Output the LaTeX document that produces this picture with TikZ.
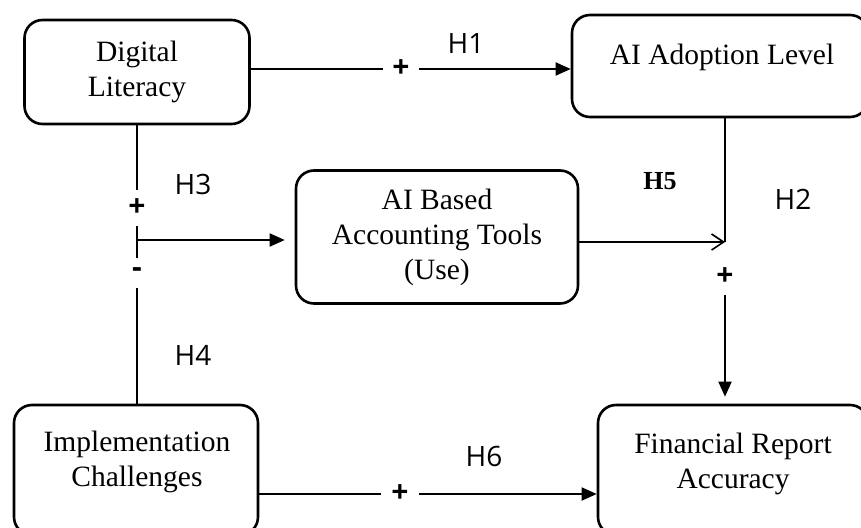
\documentclass[tikz,border=0pt]{standalone}
\usepackage{fontspec}
\setmainfont{Liberation Serif}
\newfontfamily\hfont{Open Sans}
\usetikzlibrary{arrows.meta,calc}
\begin{document}
\begin{tikzpicture}[x=1pt,y=-1pt,
  box/.style={draw, line width=2.6pt, rounded corners=18pt, inner sep=0pt},
  boxtext/.style={font=\fontsize{29.5}{35}\selectfont, align=center},
  conn/.style={line width=1.8pt},
  hlab/.style={font=\hfont\fontsize{28}{32}\selectfont},
  sign/.style={font=\hfont\bfseries\fontsize{30}{36}\selectfont, inner sep=0pt, minimum width=36pt, minimum height=36pt},
  tipfill/.style={-{Triangle[length=15pt,width=13pt]}},
  tipopen/.style={-{Straight Barb[length=12pt,width=16pt,line width=1.6pt]}}
]
\useasboundingbox (0,0) rectangle (861,527);
\clip (0,0) rectangle (861,527);

% boxes
\node[box, minimum width=225pt, minimum height=104pt, boxtext] (DL) at (137,72) {Digital\\Literacy};
\node[box, minimum width=296pt, minimum height=102pt] (AA) at (720,66) {};
\node[boxtext] (AAt) at (722,57) {AI Adoption Level};
\node[box, minimum width=282pt, minimum height=133pt, boxtext] (AIT) at (437,237) {AI Based\\Accounting Tools\\(Use)};
\node[box, minimum width=244pt, minimum height=130pt] (IC) at (136,470) {};
\node[boxtext] (ICt) at (137,462) {Implementation\\Challenges};
\node[box, minimum width=270pt, minimum height=130pt] (FRA) at (733,470) {};
\node[boxtext] (FRAt) at (733,464) {Financial Report\\Accuracy};

% signs
\node[sign] (p1) at (401,69) {+};
\node[sign] (p3) at (137,208) {+};
\node[sign, minimum height=30pt] (m4) at (137,273) {-};
\node[sign] (p2) at (725,277) {+};
\node[sign, minimum width=38pt] (p6) at (400,494) {+};

% hypothesis labels
\node[hlab] (H1) at (466,44) {H1};
\node[hlab] (H3) at (193,184) {H3};
\node[hlab] (H4) at (193,355) {H4};
\node[font=\bfseries\fontsize{26}{30}\selectfont] (H5) at (660,181) {H5};
\node[hlab] (H2) at (793,199) {H2};
\node[hlab] (H6) at (484,456) {H6};

% connectors
\coordinate (J) at (137,240);
\coordinate (K) at (725,242);
\draw[conn] (DL.east |- p1) -- (p1.west);
\draw[conn, tipfill] (p1.east) -- (AA.west |- p1);
\draw[conn] (DL.south) -- (p3.north);
\draw[conn] (p3.south) -- (m4.north);
\draw[conn, tipfill, shorten >=10pt] (J) -- (AIT.west |- J);
\draw[conn] (m4.south) -- (IC.north -| m4);
\draw[conn] (AA.south -| K) -- (K);
\draw[conn, tipopen] (AIT.east |- K) -- (K);
\draw[conn, tipfill, shorten >=7pt] (p2.south) -- (FRA.north -| p2);
\draw[conn] (IC.east |- p6) -- (p6.west);
\draw[conn, tipfill] (p6.east) -- (FRA.west |- p6);
\end{tikzpicture}
\end{document}
